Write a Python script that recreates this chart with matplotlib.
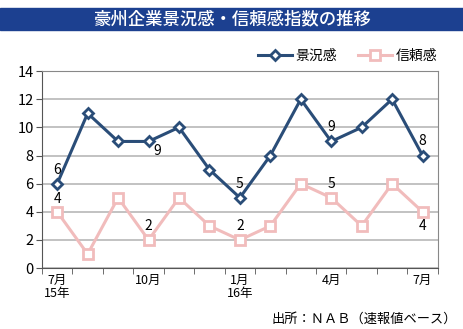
import numpy as np
import matplotlib
matplotlib.use('Agg')
from matplotlib import pyplot as plt

plt.rcParams['font.family'] = ['Noto Sans CJK JP', 'DejaVu Sans']

months = ['7月\n15年', '', '', '10月', '', '', '1月\n16年', '', '', '4月', '', '', '7月']
keikyo = [6, 11, 9, 9, 10, 7, 5, 8, 12, 9, 10, 12, 8]
shinrai = [4, 1, 5, 2, 5, 3, 2, 3, 6, 5, 3, 6, 4]

# labelled points: (index, dx, dy) offsets in data units
keikyo_lbl = [(0, 0, 1.0), (3, 0.3, -0.7), (6, 0, 1.0), (9, 0, 1.0), (12, 0, 1.0)]
shinrai_lbl = [(0, 0, 0.9), (3, 0, 1.0), (6, 0, 1.0), (9, 0, 1.0), (12, 0, -1.0)]

blue = '#2a4d78'
pink = '#f1bcbc'

fig = plt.figure(figsize=(4.64, 3.29), dpi=100)
ax = fig.add_axes([0.0905, 0.185, 0.853, 0.599])

x = np.arange(len(keikyo))
ax.plot(x, keikyo, color=blue, lw=2.2, marker='D', ms=5.5, mfc='white', mec=blue, mew=2, label='景況感', zorder=3)
ax.plot(x, shinrai, color=pink, lw=2.2, marker='s', ms=6.5, mfc='white', mec=pink, mew=2, label='信頼感', zorder=3)

for i, dx, dy in keikyo_lbl:
    ax.text(i + dx, keikyo[i] + dy, str(keikyo[i]), ha='center', va='center', fontsize=10)
for i, dx, dy in shinrai_lbl:
    ax.text(i + dx, shinrai[i] + dy, str(shinrai[i]), ha='center', va='center', fontsize=10)

ax.set_xlim(-0.5, 12.5)
ax.set_ylim(0, 14)
ax.set_yticks(range(0, 15, 2))
ax.set_xticks(x)
ax.set_xticklabels(months, fontsize=9, linespacing=1.0)
ax.set_xticks(np.arange(-0.5, 13, 1), minor=True)
ax.tick_params(axis='x', which='major', length=0, pad=4)
ax.tick_params(axis='x', which='minor', length=4, color='#555555')
ax.tick_params(axis='y', length=4, color='#555555', labelsize=10.5, pad=2)
ax.grid(axis='y', color='#b8b8b8', lw=1.2)
for s in ['top', 'right']:
    ax.spines[s].set_color('#888888')
for s in ['left', 'bottom']:
    ax.spines[s].set_color('#555555')

ax.legend(loc='lower right', bbox_to_anchor=(1.02, 1.0), ncol=2, frameon=False,
          fontsize=10, handlelength=2.4, columnspacing=1.5, handletextpad=0.3, borderaxespad=0.2)

# title banner
fig.patches.append(plt.Rectangle((0, 0.908), 1, 0.068, transform=fig.transFigure,
                                 color='#1c4090', zorder=0))
fig.text(0.5, 0.942, '豪州企業景況感・信頼感指数の推移', color='white', fontsize=12.5,
         ha='center', va='center', fontweight='medium')

fig.text(0.985, 0.03, '出所：ＮＡＢ（速報値ベース）', ha='right', va='center', fontsize=9.5)

fig.savefig('out.png', dpi=100)
